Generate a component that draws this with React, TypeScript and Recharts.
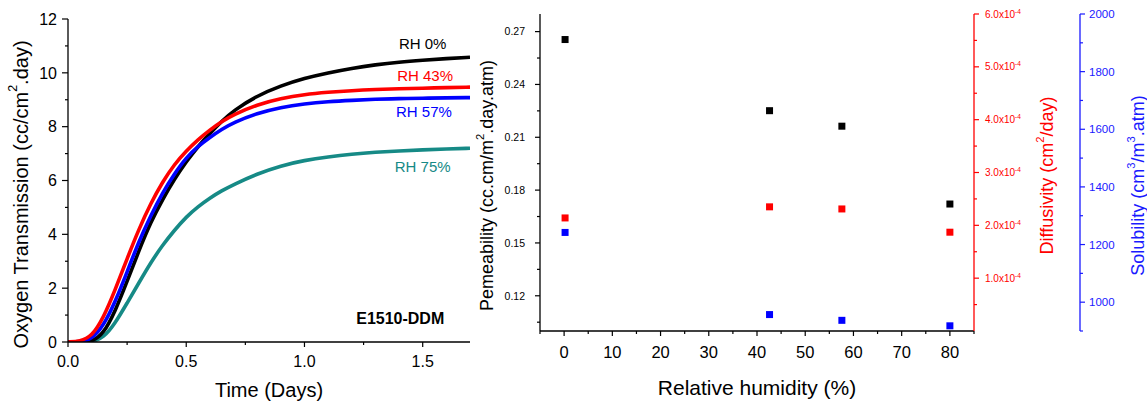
import React from "react";
import { LineChart, Line, XAxis, YAxis, ScatterChart, Scatter, ReferenceDot } from "recharts";

const FONT = '"Liberation Sans", Arial, sans-serif';

// Left panel: oxygen transmission vs time
const tiempo = [0, 0.05, 0.1, 0.15, 0.2, 0.25, 0.3, 0.35, 0.4, 0.45, 0.5, 0.55, 0.6, 0.65, 0.7, 0.8, 0.9, 1.0, 1.1, 1.2, 1.3, 1.4, 1.5, 1.6, 1.7];
const rh0 = [0, 0, 0, 0.3, 1.15, 2.25, 3.4, 4.45, 5.3, 6.05, 6.7, 7.27, 7.75, 8.2, 8.6, 9.15, 9.52, 9.8, 10.0, 10.17, 10.3, 10.4, 10.47, 10.53, 10.58];
const rh43 = [0, 0.02, 0.2, 0.9, 1.95, 3.1, 4.2, 5.15, 5.95, 6.6, 7.1, 7.52, 7.88, 8.19, 8.45, 8.82, 9.05, 9.2, 9.28, 9.34, 9.38, 9.41, 9.43, 9.45, 9.47];
const rh57 = [0, 0, 0.1, 0.6, 1.5, 2.6, 3.75, 4.7, 5.55, 6.25, 6.85, 7.27, 7.6, 7.9, 8.15, 8.5, 8.72, 8.85, 8.93, 8.98, 9.02, 9.04, 9.06, 9.07, 9.08];
const rh75 = [0, 0, 0, 0.15, 0.7, 1.45, 2.2, 2.95, 3.6, 4.15, 4.65, 5.03, 5.35, 5.62, 5.85, 6.25, 6.55, 6.75, 6.88, 6.98, 7.05, 7.1, 7.14, 7.17, 7.2];

const timeTicks = [0, 0.25, 0.5, 0.75, 1.0, 1.25, 1.5];
const timeMajors = [0, 0.5, 1.0, 1.5];
const transTicks = [0, 1, 2, 3, 4, 5, 6, 7, 8, 9, 10, 11, 12];
const transMajors = [0, 2, 4, 6, 8, 10, 12];

// Right panel: properties vs relative humidity
const humedad = [0.2, 42.6, 57.6, 80];
const permeabilidad = [0.2655, 0.2251, 0.2163, 0.1721];
const difusividad = [2.14e-4, 2.35e-4, 2.31e-4, 1.87e-4];
const solubilidad = [1242, 957, 937, 918];

const rhTicks = [-5, 0, 5, 10, 15, 20, 25, 30, 35, 40, 45, 50, 55, 60, 65, 70, 75, 80, 85];
const rhMajors = [0, 10, 20, 30, 40, 50, 60, 70, 80];
const permTicks = [0.105, 0.12, 0.135, 0.15, 0.165, 0.18, 0.195, 0.21, 0.225, 0.24, 0.255, 0.27];
const permMajors = [0.12, 0.15, 0.18, 0.21, 0.24, 0.27];
const diffTicks = [0.5e-4, 1e-4, 1.5e-4, 2e-4, 2.5e-4, 3e-4, 3.5e-4, 4e-4, 4.5e-4, 5e-4, 5.5e-4, 6e-4];
const diffMajors = [1e-4, 2e-4, 3e-4, 4e-4, 5e-4, 6e-4];
const solTicks = [900, 1000, 1100, 1200, 1300, 1400, 1500, 1600, 1700, 1800, 1900, 2000];
const solMajors = [1000, 1200, 1400, 1600, 1800, 2000];

const RED = "#ff0000";
const BLUE = "#1a1aff";
const TEAL = "#168a86";

const isIn = (v: number, list: number[]) =>
    list.some((m) => Math.abs(m - v) <= 1e-7 * Math.max(Math.abs(m), 1e-9));

type TickCfg = {
    side: "left" | "right" | "top" | "bottom";
    majors: number[];
    inward?: boolean;
    color?: string;
    fontSize?: number;
    gap?: number;
    majorLen?: number;
    minorLen?: number;
    label?: (v: number) => React.ReactNode;
};

const makeTick = (cfg: TickCfg) => (props: any) => {
    const { x, y, payload } = props;
    const v = payload.value;
    const major = isIn(v, cfg.majors);
    const len = major ? (cfg.majorLen ?? 5) : (cfg.minorLen ?? 3);
    const dir = cfg.inward ? -1 : 1;
    const color = cfg.color ?? "#000";
    const fs = cfg.fontSize ?? 12;
    let line;
    let text = null;
    if (cfg.side === "bottom" || cfg.side === "top") {
        const s = (cfg.side === "bottom" ? 1 : -1) * dir;
        line = <line x1={x} y1={y} x2={x} y2={y + s * len} stroke={color} strokeWidth={1.2} />;
        if (major && cfg.label) {
            text = (
                <text x={x} y={y + (cfg.gap ?? 20)} textAnchor="middle" fill={color} fontSize={fs} fontFamily={FONT}>
                    {cfg.label(v)}
                </text>
            );
        }
    } else {
        const s = (cfg.side === "right" ? 1 : -1) * dir;
        line = <line x1={x} y1={y} x2={x + s * len} y2={y} stroke={color} strokeWidth={1.2} />;
        if (major && cfg.label) {
            text = (
                <text
                    x={x + s * (cfg.gap ?? 10)}
                    y={y}
                    dy="0.36em"
                    textAnchor={cfg.side === "right" ? "start" : "end"}
                    fill={color}
                    fontSize={fs}
                    fontFamily={FONT}
                >
                    {cfg.label(v)}
                </text>
            );
        }
    }
    return <g>{line}{text}</g>;
};

// rotated axis title, optional superscript pieces
const VTitle = ({ cx, cy, parts, color, size }: any) => (
    <text
        transform={`translate(${cx},${cy}) rotate(-90)`}
        textAnchor="middle"
        dominantBaseline="central"
        fill={color}
        fontSize={size}
        fontFamily={FONT}
    >
        {parts.map((p: any, i: number) =>
            p.sup ? (
                <tspan key={i} fontSize={size * 0.62} dy={-size * 0.4}>{p.t}</tspan>
            ) : (
                <tspan key={i} dy={i > 0 && parts[i - 1].sup ? size * 0.4 : 0}>{p.t}</tspan>
            )
        )}
    </text>
);

const square = (color: string) => (p: any) => (
    <rect x={p.cx - 3.5} y={p.cy - 3.5} width={7} height={7} fill={color} />
);

const sciLabel = (v: number) => (
    <>
        {(v * 1e4).toFixed(1)}x10
        <tspan fontSize={6.5} dy={-4}>-4</tspan>
    </>
);

const axisLine = (c: string) => ({ stroke: c, strokeWidth: 1.3 });

export default function App() {
    const curveRows = tiempo.map((t, i) => ({ t, rh0: rh0[i], rh43: rh43[i], rh57: rh57[i], rh75: rh75[i] }));
    const permData = humedad.map((h, i) => ({ x: h, y: permeabilidad[i] }));
    const diffData = humedad.map((h, i) => ({ x: h, y: difusividad[i] }));
    const solData = humedad.map((h, i) => ({ x: h, y: solubilidad[i] }));

    const rhLabel = (txt: string, color: string, x: number, y: number) => (
        <ReferenceDot
            x={x}
            y={y}
            r={0}
            fill="none"
            stroke="none"
            label={{ value: txt, position: "center", fill: color, fontSize: 15, fontFamily: FONT }}
        />
    );

    return (
        <div style={{ position: "absolute", left: 0, top: 0, width: 1147, height: 402, background: "#fff" }}>
            <div style={{ position: "absolute", left: 0, top: 0 }}>
                <LineChart width={480} height={402} data={curveRows} margin={{ top: 19, right: 10, bottom: 0, left: 0 }}>
                    <XAxis
                        dataKey="t"
                        type="number"
                        domain={[0, 1.7]}
                        allowDataOverflow
                        ticks={timeTicks}
                        interval={0}
                        height={60}
                        tickSize={0}
                        tickMargin={0}
                        tickLine={false}
                        axisLine={axisLine("#000")}
                        tick={makeTick({ side: "bottom", majors: timeMajors, fontSize: 16, gap: 24.5, majorLen: 5, minorLen: 3, label: (v) => v.toFixed(1) })}
                        label={{
                            content: (p: any) => (
                                <text x={p.viewBox.x + p.viewBox.width / 2} y={p.viewBox.y + 55} textAnchor="middle" fontSize={20} fontFamily={FONT} fill="#000">
                                    Time (Days)
                                </text>
                            ),
                        }}
                    />
                    <XAxis
                        xAxisId="top"
                        orientation="top"
                        type="number"
                        domain={[0, 1.7]}
                        allowDataOverflow
                        ticks={timeTicks}
                        interval={0}
                        height={0}
                        tickSize={0}
                        tickMargin={0}
                        tickLine={false}
                        axisLine={axisLine("#000")}
                        tick={makeTick({ side: "top", inward: true, majors: timeMajors, majorLen: 5, minorLen: 3 })}
                    />
                    <YAxis
                        type="number"
                        domain={[0, 12]}
                        allowDataOverflow
                        ticks={transTicks}
                        interval={0}
                        width={68}
                        tickSize={0}
                        tickMargin={0}
                        tickLine={false}
                        axisLine={axisLine("#000")}
                        tick={makeTick({ side: "left", majors: transMajors, fontSize: 16, gap: 11, majorLen: 6, minorLen: 3, label: (v) => String(v) })}
                        label={{
                            content: (p: any) => (
                                <VTitle
                                    cx={p.viewBox.x + 21}
                                    cy={p.viewBox.y + p.viewBox.height / 2 + 14}
                                    size={20}
                                    color="#000"
                                    parts={[{ t: "Oxygen Transmission (cc/cm" }, { t: "2", sup: true }, { t: ".day)" }]}
                                />
                            ),
                        }}
                    />
                    <YAxis
                        yAxisId="right"
                        orientation="right"
                        type="number"
                        domain={[0, 12]}
                        allowDataOverflow
                        ticks={transTicks}
                        interval={0}
                        width={0}
                        tickSize={0}
                        tickMargin={0}
                        tickLine={false}
                        axisLine={axisLine("#000")}
                        tick={makeTick({ side: "right", inward: true, majors: transMajors, majorLen: 6, minorLen: 3 })}
                    />
                    <Line type="basis" dataKey="rh75" stroke={TEAL} strokeWidth={3.6} dot={false} isAnimationActive={false} />
                    <Line type="basis" dataKey="rh0" stroke="#000" strokeWidth={3.6} dot={false} isAnimationActive={false} />
                    <Line type="basis" dataKey="rh57" stroke="#0000ff" strokeWidth={3.6} dot={false} isAnimationActive={false} />
                    <Line type="basis" dataKey="rh43" stroke={RED} strokeWidth={3.6} dot={false} isAnimationActive={false} />
                    {rhLabel("RH 0%", "#000", 1.5, 11.1)}
                    {rhLabel("RH 43%", RED, 1.51, 9.9)}
                    {rhLabel("RH 57%", "#0000ff", 1.505, 8.55)}
                    {rhLabel("RH 75%", TEAL, 1.5, 6.53)}
                    <ReferenceDot
                        x={1.405}
                        y={0.88}
                        r={0}
                        fill="none"
                        stroke="none"
                        label={{ value: "E1510-DDM", position: "center", fill: "#000", fontSize: 16, fontWeight: "bold", fontFamily: FONT }}
                    />
                </LineChart>
            </div>

            <div style={{ position: "absolute", left: 470, top: 0 }}>
                <ScatterChart width={677} height={402} margin={{ top: 14, right: 0, bottom: 0, left: 0 }}>
                    <XAxis
                        dataKey="x"
                        type="number"
                        domain={[-5, 85]}
                        allowDataOverflow
                        ticks={rhTicks}
                        interval={0}
                        height={71}
                        tickSize={0}
                        tickMargin={0}
                        tickLine={false}
                        axisLine={axisLine("#000")}
                        tick={makeTick({ side: "bottom", majors: rhMajors, fontSize: 16.5, gap: 27, majorLen: 5, minorLen: 3, label: (v) => String(v) })}
                        label={{
                            content: (p: any) => (
                                <text x={p.viewBox.x + p.viewBox.width / 2} y={p.viewBox.y + 64} textAnchor="middle" fontSize={21} fontFamily={FONT} fill="#000">
                                    Relative humidity (%)
                                </text>
                            ),
                        }}
                    />
                    <XAxis
                        xAxisId="top"
                        orientation="top"
                        type="number"
                        domain={[-5, 85]}
                        allowDataOverflow
                        ticks={rhTicks}
                        interval={0}
                        height={0}
                        tickSize={0}
                        tickMargin={0}
                        tickLine={false}
                        axisLine={axisLine("#000")}
                        tick={makeTick({ side: "top", inward: true, majors: rhMajors, majorLen: 5, minorLen: 3 })}
                    />
                    <YAxis
                        yAxisId="perm"
                        dataKey="y"
                        type="number"
                        domain={[0.1, 0.28]}
                        allowDataOverflow
                        ticks={permTicks}
                        interval={0}
                        width={70}
                        tickSize={0}
                        tickMargin={0}
                        tickLine={false}
                        axisLine={axisLine("#000")}
                        tick={makeTick({ side: "left", majors: permMajors, fontSize: 10.5, gap: 15, majorLen: 5, minorLen: 3, label: (v) => v.toFixed(2) })}
                        label={{
                            content: (p: any) => (
                                <VTitle
                                    cx={p.viewBox.x + 17}
                                    cy={p.viewBox.y + p.viewBox.height / 2 + 13}
                                    size={18}
                                    color="#000"
                                    parts={[{ t: "Pemeability (cc.cm/m" }, { t: "2", sup: true }, { t: ".day.atm)" }]}
                                />
                            ),
                        }}
                    />
                    <YAxis
                        yAxisId="diff"
                        orientation="right"
                        dataKey="y"
                        type="number"
                        domain={[0, 6e-4]}
                        allowDataOverflow
                        ticks={diffTicks}
                        interval={0}
                        width={106}
                        tickSize={0}
                        tickMargin={0}
                        tickLine={false}
                        axisLine={axisLine(RED)}
                        tick={makeTick({ side: "right", majors: diffMajors, color: RED, fontSize: 10, gap: 11, majorLen: 5, minorLen: 3, label: sciLabel })}
                        label={{
                            content: (p: any) => (
                                <VTitle
                                    cx={p.viewBox.x + 73}
                                    cy={p.viewBox.y + p.viewBox.height / 2 + 3}
                                    size={18}
                                    color={RED}
                                    parts={[{ t: "Diffusivity (cm" }, { t: "2", sup: true }, { t: "/day)" }]}
                                />
                            ),
                        }}
                    />
                    <YAxis
                        yAxisId="sol"
                        orientation="right"
                        dataKey="y"
                        type="number"
                        domain={[900, 2000]}
                        allowDataOverflow
                        ticks={solTicks}
                        interval={0}
                        width={67}
                        tickSize={0}
                        tickMargin={0}
                        tickLine={false}
                        axisLine={axisLine(BLUE)}
                        tick={makeTick({ side: "right", majors: solMajors, color: BLUE, fontSize: 11.5, gap: 9, majorLen: 5, minorLen: 3, label: (v) => String(v) })}
                        label={{
                            content: (p: any) => (
                                <VTitle
                                    cx={p.viewBox.x + 58}
                                    cy={p.viewBox.y + p.viewBox.height / 2 + 13}
                                    size={18}
                                    color={BLUE}
                                    parts={[{ t: "Solubility (cm" }, { t: "3", sup: true }, { t: "/m" }, { t: "3", sup: true }, { t: ".atm)" }]}
                                />
                            ),
                        }}
                    />
                    <Scatter data={permData} yAxisId="perm" shape={square("#000")} isAnimationActive={false} />
                    <Scatter data={diffData} yAxisId="diff" shape={square(RED)} isAnimationActive={false} />
                    <Scatter data={solData} yAxisId="sol" shape={square("#0000ff")} isAnimationActive={false} />
                </ScatterChart>
            </div>
        </div>
    );
}
